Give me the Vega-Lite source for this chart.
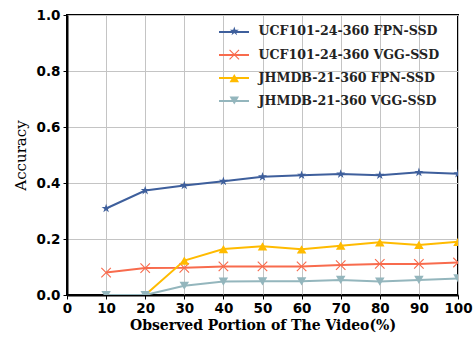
{
  "$schema": "https://vega.github.io/schema/vega-lite/v6.json",
  "width": 391,
  "height": 280,
  "autosize": {"type": "none"},
  "padding": {"left": 67, "top": 15, "right": 18, "bottom": 44},
  "background": "white",
  "config": {
    "view": {"stroke": "black", "strokeWidth": 2},
    "axis": {
      "gridColor": "#c4c4c4",
      "gridWidth": 1,
      "domainColor": "black",
      "domainWidth": 2,
      "tickColor": "black",
      "tickSize": 4,
      "tickWidth": 1,
      "labelFont": "DejaVu Sans",
      "labelFontWeight": "bold",
      "labelFontSize": 13.5,
      "labelColor": "black",
      "titleColor": "black",
      "titleFont": "DejaVu Serif"
    },
    "legend": {
      "labelFont": "DejaVu Serif",
      "labelFontWeight": "bold",
      "labelFontSize": 12.6,
      "labelColor": "#222222",
      "labelLimit": 300,
      "padding": 0,
      "rowPadding": 7.4
    }
  },
  "data": {
    "values": [
      {"px": 10, "acc": 0.309, "series": "UCF101-24-360 FPN-SSD"},
      {"px": 20, "acc": 0.373, "series": "UCF101-24-360 FPN-SSD"},
      {"px": 30, "acc": 0.391, "series": "UCF101-24-360 FPN-SSD"},
      {"px": 40, "acc": 0.406, "series": "UCF101-24-360 FPN-SSD"},
      {"px": 50, "acc": 0.422, "series": "UCF101-24-360 FPN-SSD"},
      {"px": 60, "acc": 0.428, "series": "UCF101-24-360 FPN-SSD"},
      {"px": 70, "acc": 0.432, "series": "UCF101-24-360 FPN-SSD"},
      {"px": 80, "acc": 0.428, "series": "UCF101-24-360 FPN-SSD"},
      {"px": 90, "acc": 0.438, "series": "UCF101-24-360 FPN-SSD"},
      {"px": 100, "acc": 0.433, "series": "UCF101-24-360 FPN-SSD"},
      {"px": 10, "acc": 0.080, "series": "UCF101-24-360 VGG-SSD"},
      {"px": 20, "acc": 0.096, "series": "UCF101-24-360 VGG-SSD"},
      {"px": 30, "acc": 0.097, "series": "UCF101-24-360 VGG-SSD"},
      {"px": 40, "acc": 0.102, "series": "UCF101-24-360 VGG-SSD"},
      {"px": 50, "acc": 0.102, "series": "UCF101-24-360 VGG-SSD"},
      {"px": 60, "acc": 0.102, "series": "UCF101-24-360 VGG-SSD"},
      {"px": 70, "acc": 0.107, "series": "UCF101-24-360 VGG-SSD"},
      {"px": 80, "acc": 0.111, "series": "UCF101-24-360 VGG-SSD"},
      {"px": 90, "acc": 0.111, "series": "UCF101-24-360 VGG-SSD"},
      {"px": 100, "acc": 0.116, "series": "UCF101-24-360 VGG-SSD"},
      {"px": 10, "acc": 0.0, "series": "JHMDB-21-360 FPN-SSD"},
      {"px": 20, "acc": 0.0, "series": "JHMDB-21-360 FPN-SSD"},
      {"px": 30, "acc": 0.123, "series": "JHMDB-21-360 FPN-SSD"},
      {"px": 40, "acc": 0.164, "series": "JHMDB-21-360 FPN-SSD"},
      {"px": 50, "acc": 0.174, "series": "JHMDB-21-360 FPN-SSD"},
      {"px": 60, "acc": 0.163, "series": "JHMDB-21-360 FPN-SSD"},
      {"px": 70, "acc": 0.176, "series": "JHMDB-21-360 FPN-SSD"},
      {"px": 80, "acc": 0.188, "series": "JHMDB-21-360 FPN-SSD"},
      {"px": 90, "acc": 0.179, "series": "JHMDB-21-360 FPN-SSD"},
      {"px": 100, "acc": 0.190, "series": "JHMDB-21-360 FPN-SSD"},
      {"px": 10, "acc": 0.0, "series": "JHMDB-21-360 VGG-SSD"},
      {"px": 20, "acc": 0.0, "series": "JHMDB-21-360 VGG-SSD"},
      {"px": 30, "acc": 0.033, "series": "JHMDB-21-360 VGG-SSD"},
      {"px": 40, "acc": 0.048, "series": "JHMDB-21-360 VGG-SSD"},
      {"px": 50, "acc": 0.049, "series": "JHMDB-21-360 VGG-SSD"},
      {"px": 60, "acc": 0.049, "series": "JHMDB-21-360 VGG-SSD"},
      {"px": 70, "acc": 0.054, "series": "JHMDB-21-360 VGG-SSD"},
      {"px": 80, "acc": 0.048, "series": "JHMDB-21-360 VGG-SSD"},
      {"px": 90, "acc": 0.054, "series": "JHMDB-21-360 VGG-SSD"},
      {"px": 100, "acc": 0.059, "series": "JHMDB-21-360 VGG-SSD"}
    ]
  },
  "encoding": {
    "x": {
      "field": "px",
      "type": "quantitative",
      "scale": {"domain": [0, 100], "nice": false, "zero": false},
      "axis": {
        "title": "Observed Portion of The Video(%)",
        "titleFontWeight": "bold",
        "titleFontSize": 14,
        "titlePadding": 4,
        "values": [0, 10, 20, 30, 40, 50, 60, 70, 80, 90, 100],
        "format": "d",
        "labelPadding": 2,
        "labelOverlap": false,
        "labelFlush": false,
        "labelBound": false
      }
    },
    "y": {
      "field": "acc",
      "type": "quantitative",
      "scale": {"domain": [0, 1], "nice": false},
      "axis": {
        "title": "Accuracy",
        "titleFontWeight": "normal",
        "titleFontSize": 15,
        "titlePadding": 8,
        "values": [0, 0.2, 0.4, 0.6, 0.8, 1.0],
        "format": ".1f",
        "labelPadding": 3,
        "labelOverlap": false,
        "labelFlush": false,
        "labelBound": false
      }
    }
  },
  "layer": [
    {
      "mark": {"type": "line", "strokeWidth": 2, "clip": true},
      "encoding": {
        "stroke": {
          "field": "series",
          "type": "nominal",
          "sort": ["UCF101-24-360 FPN-SSD", "UCF101-24-360 VGG-SSD", "JHMDB-21-360 FPN-SSD", "JHMDB-21-360 VGG-SSD"],
          "scale": {"range": ["#3e5f9c", "#f86b4d", "#ffbb00", "#94b6bd"]},
          "legend": {
            "orient": "none",
            "legendX": 151,
            "legendY": 1,
            "title": null,
            "symbolType": "stroke",
            "symbolSize": 900,
            "symbolStrokeWidth": 2,
            "labelOpacity": 0,
            "labelOffset": 11,
            "rowPadding": -2.2
          }
        }
      }
    },
    {
      "mark": {"type": "point", "filled": true, "size": 90, "opacity": 1, "strokeWidth": 0, "clip": true},
      "encoding": {
        "fill": {
          "field": "series",
          "type": "nominal",
          "scale": {
            "domain": ["UCF101-24-360 FPN-SSD", "UCF101-24-360 VGG-SSD", "JHMDB-21-360 FPN-SSD", "JHMDB-21-360 VGG-SSD"],
            "range": ["#3e5f9c", "#f86b4d", "#ffbb00", "#94b6bd"]
          },
          "legend": {
            "orient": "none",
            "legendX": 161,
            "legendY": 10,
            "title": null,
            "symbolSize": 90,
            "symbolOpacity": 1,
            "labelOffset": 18
          }
        },
        "shape": {
          "field": "series",
          "type": "nominal",
          "scale": {
            "domain": ["UCF101-24-360 FPN-SSD", "UCF101-24-360 VGG-SSD", "JHMDB-21-360 FPN-SSD", "JHMDB-21-360 VGG-SSD"],
            "range": ["M0,-1L0.225,-0.309L0.951,-0.309L0.363,0.118L0.588,0.809L0,0.382L-0.588,0.809L-0.363,0.118L-0.951,-0.309L-0.225,-0.309Z", "M-1.085,-0.915L0.915,1.085L1.085,0.915L-0.915,-1.085ZM-0.915,1.085L1.085,-0.915L0.915,-1.085L-1.085,0.915Z", "triangle-up", "triangle-down"]
          }
        }
      }
    }
  ]
}
